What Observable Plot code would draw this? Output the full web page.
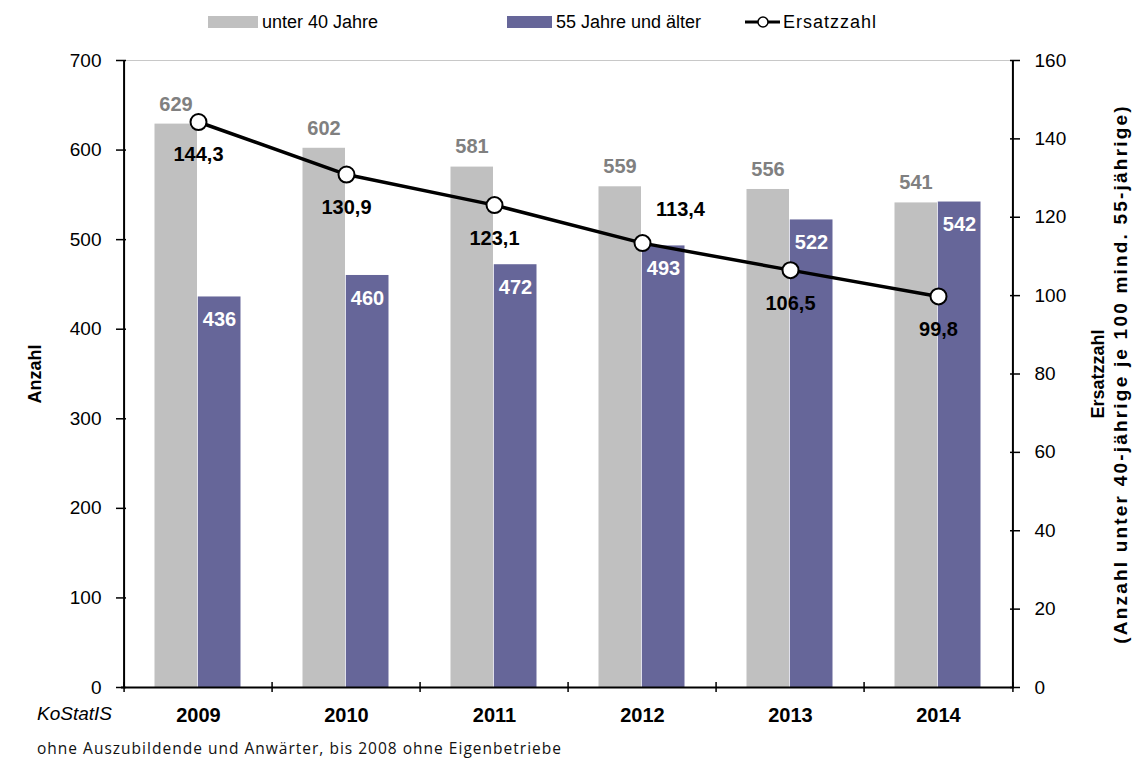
<!DOCTYPE html>
<html>
<head>
<meta charset="utf-8">
<script src="https://cdn.jsdelivr.net/npm/d3@7"></script>
<script src="https://cdn.jsdelivr.net/npm/@observablehq/plot@0.6"></script>
<style>
  html, body { margin: 0; padding: 0; background: #fff; }
  body { width: 1133px; height: 760px; position: relative; overflow: hidden; font-family: "Liberation Sans", Arial, sans-serif; }
  .leg { position: absolute; top: 0; height: 44px; display: flex; align-items: center; font-size: 18px; color: #000; }
  .sw { display: inline-block; height: 12px; margin-right: 4px; }
  #chart { position: absolute; left: 0; top: 45px; }
  #src { position: absolute; left: 37px; top: 703px; font-style: italic; font-size: 19px; }
  #note { position: absolute; left: 37px; top: 738px; }
</style>
</head>
<body>
<div class="leg" style="left:208px"><span class="sw" style="background:#C0C0C0;width:50px"></span>unter 40 Jahre</div>
<div class="leg" style="left:507px"><span class="sw" style="background:#666699;width:45px"></span>55 Jahre und älter</div>
<div class="leg" style="left:745px"><svg width="35" height="16" style="margin-right:3px"><line x1="0" x2="35" y1="8" y2="8" stroke="#000" stroke-width="3"/><circle cx="18" cy="8" r="5" fill="#fff" stroke="#000" stroke-width="1.5"/></svg><span style="letter-spacing:1px">Ersatzzahl</span></div>
<div id="chart"></div>
<div id="src">KoStatIS</div>
<svg id="note" width="560" height="22"><text x="0" y="16" font-family="Open Sans, sans-serif" font-size="15.5" fill="#111" textLength="524" lengthAdjust="spacing">ohne Auszubildende und Anwärter, bis 2008 ohne Eigenbetriebe</text></svg>
<script>
// ---- data ----
const years = ["2009", "2010", "2011", "2012", "2013", "2014"];
const under40 = [629, 602, 581, 559, 556, 541];
const over55 = [436, 460, 472, 493, 522, 542];
const ersatzzahl = [144.3, 130.9, 123.1, 113.4, 106.5, 99.8];
const leftTicks = [0, 100, 200, 300, 400, 500, 600, 700];
const rightTicks = [0, 20, 40, 60, 80, 100, 120, 140, 160];
const leftMax = 700, rightMax = 160;
const rightTitle = ["Ersatzzahl", "(Anzahl unter 40-jährige je 100 mind. 55-jährige)"];

const k = leftMax / rightMax; // right-axis value -> left-axis units
const rows = years.map((year, i) => ({year, u40: under40[i], o55: over55[i], ez: ersatzzahl[i]}));
const fmt = v => d3.format(".1f")(v).replace(".", ",");

const W = 1133, H = 685;
const mL = 121, mR = 119, mT = 15, mB = 43;
const bw = (W - mL - mR) / years.length;
const tickHalf = 5 * leftMax / (H - mT - mB);
const rightTickVals = rightTicks.map(v => v * k);

const chart = Plot.plot({
  width: W,
  height: H,
  marginLeft: mL,
  marginRight: mR,
  marginTop: mT,
  marginBottom: mB,
  style: {fontFamily: "Liberation Sans, Arial, sans-serif", fontSize: "19px", color: "#000", background: "#fff", overflow: "visible"},
  x: {type: "band", domain: years, padding: 0},
  y: {domain: [0, leftMax]},
  marks: [
    Plot.ruleY([leftMax], {stroke: "#c8c8c8", strokeWidth: 1}),
    Plot.barY(rows, {x: "year", y: "u40", fill: "#C0C0C0", insetLeft: 30.5, insetRight: 75}),
    Plot.barY(rows, {x: "year", y: "o55", fill: "#666699", insetLeft: 73.8, insetRight: 31.5}),
    Plot.text(rows, {x: "year", y: "u40", text: d => String(d.u40), dx: -22.5, dy: -20, fill: "#808080", fontWeight: "bold", fontSize: 20}),
    Plot.text(rows, {x: "year", y: "o55", text: d => String(d.o55), dx: 21, dy: 23, fill: "#ffffff", fontWeight: "bold", fontSize: 20}),
    // axis lines
    Plot.ruleY([0], {stroke: "#000", strokeWidth: 2}),
    Plot.ruleX(years.slice(0, 1), {x: d => d, y1: 0, y2: leftMax, dx: -bw / 2, stroke: "#000", strokeWidth: 2}),
    Plot.ruleX(years.slice(-1), {x: d => d, y1: 0, y2: leftMax, dx: bw / 2, stroke: "#000", strokeWidth: 2}),
    // x boundary ticks
    Plot.ruleX(years, {x: d => d, y1: -tickHalf, y2: tickHalf, dx: -bw / 2, stroke: "#000", strokeWidth: 1.5}),
    Plot.ruleX(years.slice(-1), {x: d => d, y1: -tickHalf, y2: tickHalf, dx: bw / 2, stroke: "#000", strokeWidth: 1.5}),
    // left axis: crossing ticks + labels
    Plot.axisY(leftTicks, {anchor: "left", tickSize: 10, dx: 5, tickFormat: () => "", label: null, strokeWidth: 1.5}),
    Plot.axisY(leftTicks, {anchor: "left", tickSize: 0, tickPadding: 20, label: null, fontSize: 19}),
    // right axis
    Plot.axisY(rightTickVals, {anchor: "right", tickSize: 10, dx: -5, tickFormat: () => "", label: null, strokeWidth: 1.5}),
    Plot.axisY(rightTickVals, {anchor: "right", tickSize: 0, tickPadding: 20, tickFormat: v => String(Math.round(v / k)), label: null, fontSize: 19}),
    Plot.axisX({tickSize: 0, tickPadding: 20, label: null, fontWeight: "bold", fontSize: 20}),
    // Ersatzzahl line
    Plot.line(rows, {x: "year", y: d => d.ez * k, stroke: "#000", strokeWidth: 3.5}),
    Plot.dot(rows, {x: "year", y: d => d.ez * k, r: 8, fill: "#fff", stroke: "#000", strokeWidth: 2}),
    Plot.text(rows.filter(d => d.year !== "2012"), {x: "year", y: d => d.ez * k, text: d => fmt(d.ez), dy: 33, fill: "#000", fontWeight: "bold", fontSize: 20}),
    Plot.text(rows.filter(d => d.year === "2012"), {x: "year", y: d => d.ez * k, text: d => fmt(d.ez), dx: 38, dy: -34, fill: "#000", fontWeight: "bold", fontSize: 20}),
    // axis titles
    Plot.text(["Anzahl"], {text: d => d, frameAnchor: "left", textAnchor: "middle", lineAnchor: "middle", rotate: -90, dx: -86, fontWeight: "bold", fontSize: 18}),
    Plot.text(rightTitle.slice(0, 1), {text: d => d, frameAnchor: "right", textAnchor: "middle", lineAnchor: "middle", rotate: -90, dx: 84, fontWeight: "bold", fontSize: 18}),
    Plot.text(rightTitle.slice(1), {text: d => d, frameAnchor: "right", textAnchor: "middle", lineAnchor: "middle", rotate: -90, dx: 106, fontWeight: "bold", fontSize: 19})
  ]
});
d3.select(chart).selectAll("text")
  .filter(function() { return this.textContent === rightTitle[1]; })
  .style("letter-spacing", "2.2px");
document.getElementById("chart").appendChild(chart);
</script>
</body>
</html>
